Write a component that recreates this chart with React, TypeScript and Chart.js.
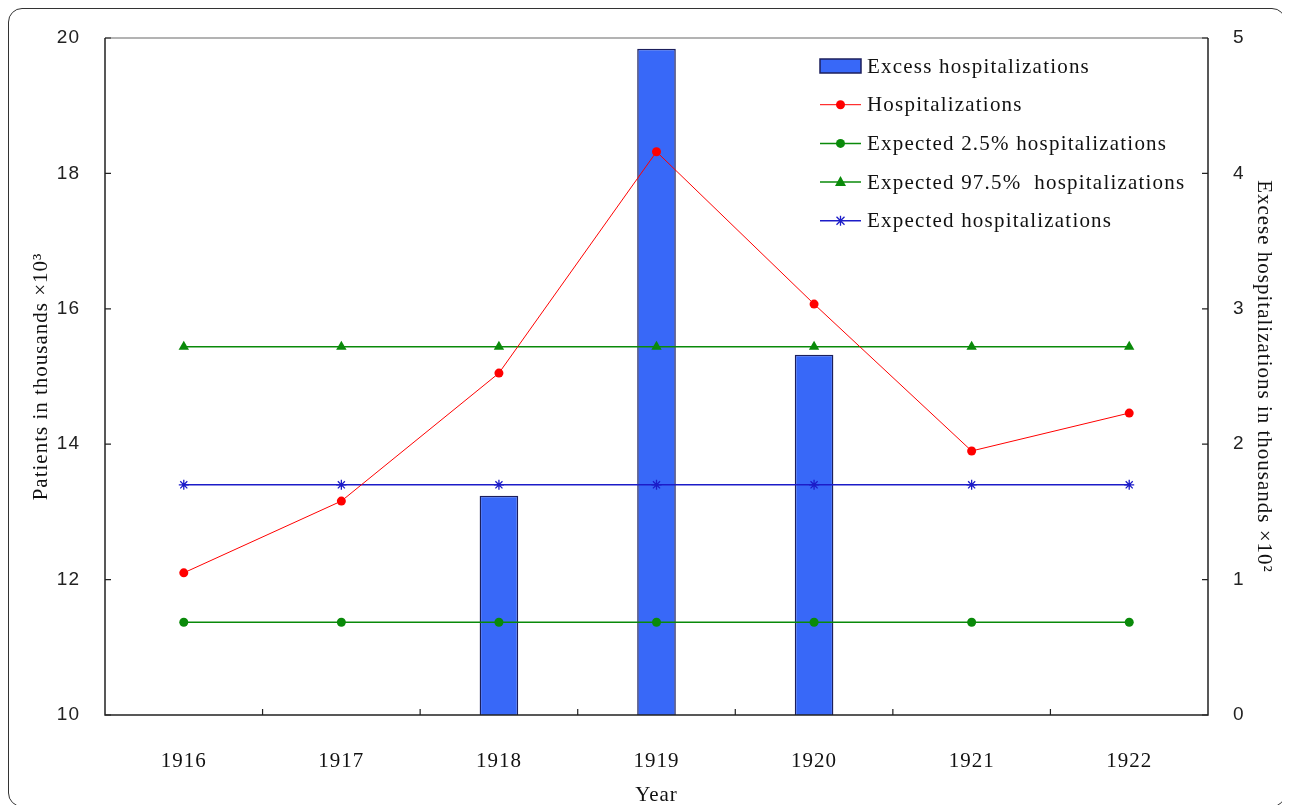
import React, { useEffect, useRef } from "react";
import { Chart, registerables } from "chart.js";
Chart.register(...registerables);

const years = ["1916", "1917", "1918", "1919", "1920", "1921", "1922"];
const excessHosp = [null, null, 1.62, 4.92, 2.66, null, null];
const hospitalizations = [12.1, 13.16, 15.05, 18.32, 16.07, 13.9, 14.46];
const expected25 = [11.37, 11.37, 11.37, 11.37, 11.37, 11.37, 11.37];
const expected975 = [15.44, 15.44, 15.44, 15.44, 15.44, 15.44, 15.44];
const expectedHosp = [13.4, 13.4, 13.4, 13.4, 13.4, 13.4, 13.4];
const leftRange = [10, 20];
const rightRange = [0, 5];

const SERIF = "'Liberation Serif', 'Times New Roman', serif";
const SANS = "'Liberation Sans', Arial, sans-serif";

const BAR_FILL = "#3868f8";
const BAR_EDGE = "#1c1f5c";
const RED = "#ff0000";
const GREEN = "#0a8a0a";
const BLUE = "#1c1cc8";

const legendItems = [
  { label: "Excess hospitalizations", kind: "bar", color: BAR_FILL },
  { label: "Hospitalizations", kind: "circle", color: RED },
  { label: "Expected 2.5% hospitalizations", kind: "circle", color: GREEN },
  { label: "Expected 97.5%  hospitalizations", kind: "triangle", color: GREEN },
  { label: "Expected hospitalizations", kind: "star", color: BLUE },
];

const framePlugin = {
  id: "framePlugin",
  beforeDraw(chart: any) {
    (chart.ctx as any).letterSpacing = "1px";
  },
  afterDatasetsDraw(chart: any) {
    const { ctx, chartArea, scales } = chart;
    const { left, right, top, bottom } = chartArea;
    ctx.save();
    ctx.strokeStyle = "#9a9a9a";
    ctx.lineWidth = 1.5;
    ctx.beginPath();
    ctx.moveTo(left, top);
    ctx.lineTo(right, top);
    ctx.stroke();
    ctx.strokeStyle = "#222";
    ctx.lineWidth = 1.5;
    ctx.beginPath();
    ctx.moveTo(left, top);
    ctx.lineTo(left, bottom);
    ctx.lineTo(right, bottom);
    ctx.lineTo(right, top);
    ctx.stroke();
    ctx.lineWidth = 1.2;
    const tl = 6;
    ctx.beginPath();
    const ys = scales.y;
    ys.ticks.forEach((t: any) => {
      const p = ys.getPixelForValue(t.value);
      ctx.moveTo(left, p);
      ctx.lineTo(left + tl, p);
    });
    const y1 = scales.y1;
    y1.ticks.forEach((t: any) => {
      const p = y1.getPixelForValue(t.value);
      ctx.moveTo(right, p);
      ctx.lineTo(right - tl, p);
    });
    const xs = scales.x;
    for (let i = 1; i < years.length; i++) {
      const p = (xs.getPixelForValue(i - 1) + xs.getPixelForValue(i)) / 2;
      ctx.moveTo(p, bottom);
      ctx.lineTo(p, bottom - tl);
    }
    ctx.stroke();
    ctx.restore();
  },
  afterDraw(chart: any) {
    const { ctx, chartArea } = chart;
    const x0 = chartArea.left + 715;
    const y0 = chartArea.top + 28;
    const dy = 38.7;
    ctx.save();
    ctx.font = `21px ${SERIF}`;
    (ctx as any).letterSpacing = "1.2px";
    ctx.textBaseline = "middle";
    ctx.fillStyle = "#111";
    legendItems.forEach((it, i) => {
      const y = y0 + i * dy;
      if (it.kind === "bar") {
        ctx.fillStyle = it.color;
        ctx.fillRect(x0, y - 7, 41, 14);
        ctx.strokeStyle = BAR_EDGE;
        ctx.lineWidth = 1.5;
        ctx.strokeRect(x0, y - 7, 41, 14);
      } else {
        ctx.strokeStyle = it.color;
        ctx.lineWidth = it.color === RED ? 1 : 1.5;
        ctx.beginPath();
        ctx.moveTo(x0, y);
        ctx.lineTo(x0 + 41, y);
        ctx.stroke();
        const cx = x0 + 20.5;
        ctx.fillStyle = it.color;
        if (it.kind === "circle") {
          ctx.beginPath();
          ctx.arc(cx, y, 4.5, 0, Math.PI * 2);
          ctx.fill();
        } else if (it.kind === "triangle") {
          ctx.beginPath();
          ctx.moveTo(cx, y - 6);
          ctx.lineTo(cx + 5.5, y + 4);
          ctx.lineTo(cx - 5.5, y + 4);
          ctx.closePath();
          ctx.fill();
        } else {
          ctx.lineWidth = 1.3;
          ctx.beginPath();
          ctx.moveTo(cx - 4, y - 4);
          ctx.lineTo(cx + 4, y + 4);
          ctx.moveTo(cx + 4, y - 4);
          ctx.lineTo(cx - 4, y + 4);
          ctx.moveTo(cx, y - 5);
          ctx.lineTo(cx, y + 5);
          ctx.stroke();
        }
      }
      ctx.fillStyle = "#111";
      ctx.fillText(it.label, x0 + 47, y + 1);
    });
    ctx.restore();
  },
};

export default function App() {
  const ref = useRef<HTMLCanvasElement | null>(null);
  useEffect(() => {
    if (!ref.current) return;
    const lineCommon = {
      type: "line" as const,
      yAxisID: "y",
      fill: false,
      tension: 0,
      order: 1,
    };
    const chart = new Chart(ref.current, {
      type: "bar",
      data: {
        labels: years,
        datasets: [
          {
            type: "bar",
            label: "Excess hospitalizations",
            data: excessHosp as any,
            yAxisID: "y1",
            backgroundColor: BAR_FILL,
            borderColor: BAR_EDGE,
            borderWidth: 1.5,
            barPercentage: 1,
            categoryPercentage: 0.245,
            order: 10,
          } as any,
          {
            ...lineCommon,
            label: "Hospitalizations",
            data: hospitalizations,
            borderColor: RED,
            backgroundColor: RED,
            borderWidth: 1,
            pointStyle: "circle",
            pointRadius: 4.5,
            pointBorderWidth: 0,
          } as any,
          {
            ...lineCommon,
            label: "Expected 2.5% hospitalizations",
            data: expected25,
            borderColor: GREEN,
            backgroundColor: GREEN,
            borderWidth: 1.5,
            pointStyle: "circle",
            pointRadius: 4.5,
            pointBorderWidth: 0,
          } as any,
          {
            ...lineCommon,
            label: "Expected 97.5%  hospitalizations",
            data: expected975,
            borderColor: GREEN,
            backgroundColor: GREEN,
            borderWidth: 1.5,
            pointStyle: "triangle",
            pointRadius: 6,
            pointBorderWidth: 0,
          } as any,
          {
            ...lineCommon,
            label: "Expected hospitalizations",
            data: expectedHosp,
            borderColor: BLUE,
            backgroundColor: BLUE,
            borderWidth: 1.5,
            pointStyle: "star",
            pointRadius: 5,
            pointBorderWidth: 1.3,
          } as any,
        ],
      },
      options: {
        animation: false,
        responsive: false,
        maintainAspectRatio: false,
        layout: { padding: { top: 29, left: 0, right: 0, bottom: 0 } },
        plugins: {
          legend: { display: false },
          tooltip: { enabled: false },
        },
        scales: {
          x: {
            type: "category",
            offset: true,
            grid: { display: false },
            border: { display: false },
            ticks: {
              padding: 26,
              color: "#111",
              font: { family: SERIF, size: 21 },
              maxRotation: 0,
            },
            title: {
              display: true,
              text: "Year",
              color: "#111",
              font: { family: SERIF, size: 21 },
              padding: { top: 0, bottom: -2 },
            },
            afterFit(scale: any) {
              scale.height = 91;
            },
          },
          y: {
            type: "linear",
            position: "left",
            min: leftRange[0],
            max: leftRange[1],
            grid: { display: false },
            border: { display: false },
            ticks: {
              stepSize: 2,
              padding: 17,
              color: "#222",
              font: { family: SANS, size: 19 },
            },
            title: {
              display: true,
              text: "Patients in thousands \u00d710\u00b3",
              color: "#111",
              font: { family: SERIF, size: 21 },
              padding: { top: 20, bottom: 0 },
            },
            afterFit(scale: any) {
              scale.width = 96;
            },
          },
          y1: {
            type: "linear",
            position: "right",
            min: rightRange[0],
            max: rightRange[1],
            grid: { display: false },
            border: { display: false },
            ticks: {
              stepSize: 1,
              padding: 17,
              color: "#222",
              font: { family: SANS, size: 19 },
            },
            title: {
              display: true,
              text: "Excese hospitalizations in thousands \u00d710\u00b2",
              color: "#111",
              font: { family: SERIF, size: 21 },
              padding: { top: 9, bottom: 0 },
            },
            afterFit(scale: any) {
              scale.width = 77;
            },
          },
        },
      } as any,
      plugins: [framePlugin],
    });
    return () => chart.destroy();
  }, []);

  return (
    <div
      style={{
        width: 1276,
        height: 797,
        border: "1px solid #333",
        borderRadius: 14,
        overflow: "hidden",
        background: "#fff",
      }}
    >
      <canvas ref={ref} width={1276} height={797} style={{ display: "block" }} />
    </div>
  );
}
